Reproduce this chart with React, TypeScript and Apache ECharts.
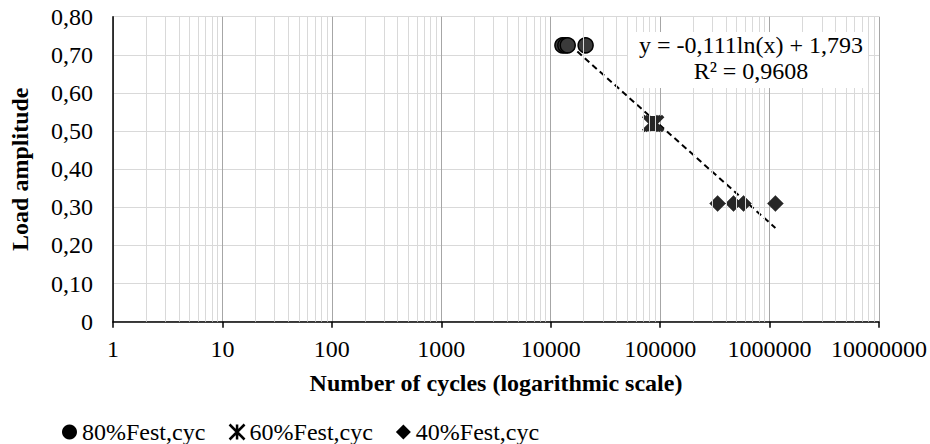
import React, { useEffect, useRef } from "react";
import * as echarts from "echarts";

const series80Cycles = [12790, 13600, 14300, 20840];
const series80Load = [0.725, 0.725, 0.725, 0.725];
const series60Cycles = [82000, 86000, 91000];
const series60Load = [0.52, 0.52, 0.52];
const series40Cycles = [335000, 468000, 578000, 1130000];
const series40Load = [0.31, 0.31, 0.31, 0.31];
const seriesNames = ["80%Fest,cyc", "60%Fest,cyc", "40%Fest,cyc"];
const trendSlope = -0.111;
const trendIntercept = 1.793;
const trendText = ["y = -0,111ln(x) + 1,793", "R² = 0,9608"];
const xMin = 1;
const xMax = 10000000;
const yMin = 0;
const yMax = 0.8;
const yInterval = 0.1;

const FONT = "Liberation Serif";
const FS = 24;
const STAR = "path://M0,0L10,10M10,0L0,10M5,0L5,10";

export default function App() {
  const ref = useRef<HTMLDivElement>(null);
  useEffect(() => {
    if (!ref.current) return;
    const chart = echarts.init(ref.current, undefined, { renderer: "svg" });

    const pairs = (xs: number[], ys: number[]) => xs.map((x, i) => [x, ys[i]]);
    const allX = [...series80Cycles, ...series60Cycles, ...series40Cycles];
    const tMin = Math.min(...allX);
    const tMax = Math.max(...allX);
    const trend = [tMin, tMax].map((x) => [x, trendSlope * Math.log(x) + trendIntercept]);

    const minorLines: { xAxis: number }[] = [];
    for (let d = xMin; d < xMax; d *= 10) {
      for (let m = 2; m <= 9; m++) minorLines.push({ xAxis: m * d });
    }

    chart.setOption({
      animation: false,
      backgroundColor: "#ffffff",
      textStyle: { fontFamily: FONT },
      grid: { left: 110.5, right: 51, top: 16.7, bottom: 122.3, containLabel: false },
      xAxis: {
        type: "log",
        logBase: 10,
        min: xMin,
        max: xMax,
        name: "Number of cycles (logarithmic scale)",
        nameLocation: "middle",
        nameGap: 49,
        nameTextStyle: { fontFamily: FONT, fontSize: FS, fontWeight: "bold", color: "#000" },
        axisLine: { show: true, onZero: false, lineStyle: { color: "#000", width: 1.5 } },
        axisTick: { show: true, length: 6, lineStyle: { color: "#000", width: 1.5 } },
        axisLabel: {
          fontFamily: FONT,
          fontSize: FS,
          color: "#000",
          margin: 15,
          formatter: (v: number) => String(Math.round(v)),
        },
        splitLine: { show: true, lineStyle: { color: "#a6a6a6", width: 1 } },
      },
      yAxis: {
        type: "value",
        min: yMin,
        max: yMax,
        interval: yInterval,
        name: "Load amplitude",
        nameLocation: "middle",
        nameGap: 81,
        nameTextStyle: { fontFamily: FONT, fontSize: FS, fontWeight: "bold", color: "#000" },
        axisLine: { show: true, lineStyle: { color: "#000", width: 1.5 } },
        axisTick: { show: false },
        axisLabel: {
          fontFamily: FONT,
          fontSize: FS,
          color: "#000",
          margin: 20,
          formatter: (v: number) => (v === 0 ? "0" : v.toFixed(2).replace(".", ",")),
        },
        splitLine: { show: true, lineStyle: { color: "#d9d9d9", width: 1 } },
      },
      legend: {
        left: 57,
        top: 415,
        padding: 5,
        itemWidth: 15,
        itemHeight: 15,
        itemGap: 23,
        textStyle: { fontFamily: FONT, fontSize: FS, color: "#000" },
        data: [
          { name: seriesNames[0], icon: "circle", itemStyle: { color: "#000", borderWidth: 0 } },
          { name: seriesNames[1], icon: STAR, itemStyle: { color: "#000", borderColor: "#000", borderWidth: 2.5 } },
          { name: seriesNames[2], icon: "diamond", itemStyle: { color: "#000", borderWidth: 0 } },
        ],
      },
      graphic: [
        {
          type: "rect",
          shape: { x: 628, y: 32, width: 240, height: 56 },
          style: { fill: "#ffffff" },
          z: 10,
        },
        {
          type: "text",
          x: 751,
          y: 45,
          z: 11,
          style: {
            text: trendText[0],
            fontFamily: FONT,
            fontSize: FS,
            fill: "#000",
            align: "center",
            verticalAlign: "middle",
          },
        },
        {
          type: "text",
          x: 751,
          y: 71,
          z: 11,
          style: {
            text: trendText[1],
            fontFamily: FONT,
            fontSize: FS,
            fill: "#000",
            align: "center",
            verticalAlign: "middle",
          },
        },
      ],
      series: [
        {
          type: "line",
          name: "minorGrid",
          data: [],
          silent: true,
          z: 0,
          markLine: {
            silent: true,
            symbol: ["none", "none"],
            label: { show: false },
            lineStyle: { color: "#d9d9d9", width: 1, type: "solid" },
            data: minorLines,
          },
        },
        {
          type: "line",
          name: "trend",
          data: trend,
          showSymbol: false,
          symbol: "none",
          silent: true,
          z: 3,
          lineStyle: { color: "#000", width: 2, type: [6, 4] },
        },
        {
          type: "scatter",
          name: seriesNames[0],
          data: pairs(series80Cycles, series80Load),
          symbol: "circle",
          symbolSize: 15,
          z: 4,
          itemStyle: { color: "#3a3a3a", borderColor: "#000", borderWidth: 1.5, opacity: 1 },
        },
        {
          type: "scatter",
          name: seriesNames[1],
          data: pairs(series60Cycles, series60Load),
          symbol: STAR,
          symbolSize: 15,
          z: 4,
          itemStyle: { color: "#262626", borderColor: "#262626", borderWidth: 3.5, opacity: 1 },
        },
        {
          type: "scatter",
          name: seriesNames[2],
          data: pairs(series40Cycles, series40Load),
          symbol: "diamond",
          symbolSize: 16,
          z: 4,
          itemStyle: { color: "#262626", borderColor: "#262626", borderWidth: 0.5, opacity: 1 },
        },
      ],
    });
    return () => chart.dispose();
  }, []);
  return (
    <div
      ref={ref}
      style={{ position: "absolute", left: 0, top: 0, width: 930, height: 444 }}
    />
  );
}
